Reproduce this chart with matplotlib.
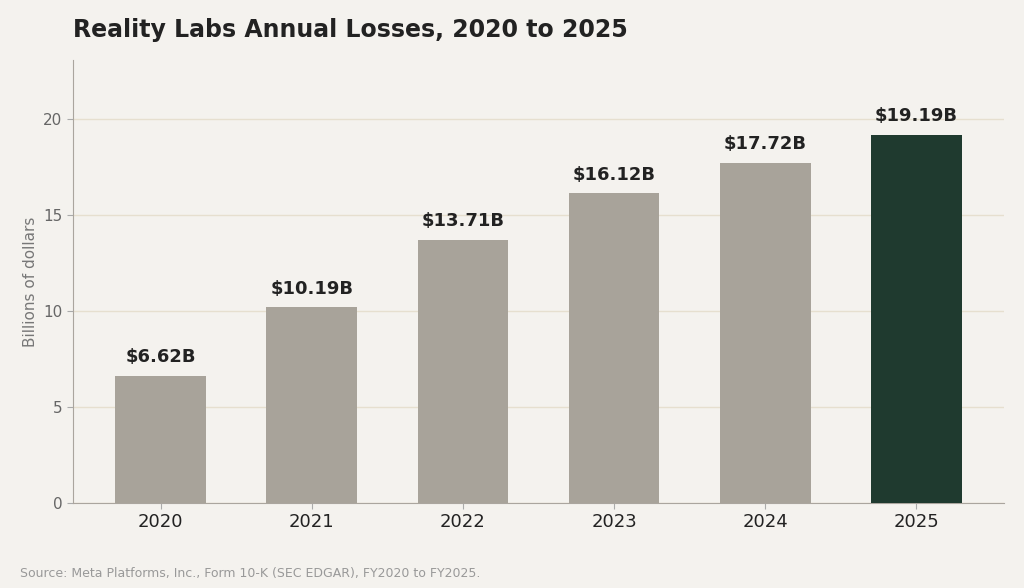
import matplotlib
matplotlib.use("Agg")
import matplotlib.pyplot as plt

years = ["2020", "2021", "2022", "2023", "2024", "2025"]
losses = [6.62, 10.19, 13.71, 16.12, 17.72, 19.19]
labels = ["$6.62B", "$10.19B", "$13.71B", "$16.12B", "$17.72B", "$19.19B"]

bg = "#f4f2ee"
fig = plt.figure(figsize=(10.24, 5.88), dpi=100, facecolor=bg)
ax = fig.add_axes([73/1024, 1 - 503/588, (1004-73)/1024, (503-60)/588])
ax.set_facecolor(bg)

colors = ["#a8a39a"] * 5 + ["#1f3a2f"]
x = range(len(years))
ax.bar(x, losses, width=0.6, color=colors, zorder=3)
for i, v in enumerate(losses):
    ax.text(i, v + 0.5, labels[i], ha="center", va="bottom",
            fontsize=13, fontweight="bold", color="#222222")

ax.set_xlim(-0.58, 5.58)
ax.set_ylim(0, 23.07)
ax.set_yticks([0, 5, 10, 15, 20])
ax.set_xticks(list(x))
ax.set_xticklabels(years, fontsize=13, color="#222222")
ax.tick_params(axis="y", labelsize=11, colors="#666666", length=4, color="#aaaaaa")
ax.tick_params(axis="x", length=4, color="#aaaaaa")
ax.grid(axis="y", color="#e6dfcf", linewidth=1, zorder=0)
for s in ["top", "right"]:
    ax.spines[s].set_visible(False)
for s in ["left", "bottom"]:
    ax.spines[s].set_color("#aaa59e")
ax.set_ylabel("Billions of dollars", fontsize=11, color="#777777")

fig.text(73/1024, 1 - 30/588, "Reality Labs Annual Losses, 2020 to 2025",
         fontsize=17, fontweight="bold", color="#222222", va="center")
fig.text(20/1024, 1 - 573/588,
         "Source: Meta Platforms, Inc., Form 10-K (SEC EDGAR), FY2020 to FY2025.",
         fontsize=9, color="#999999", va="center")

fig.savefig("out.png", dpi=100, facecolor=bg)
